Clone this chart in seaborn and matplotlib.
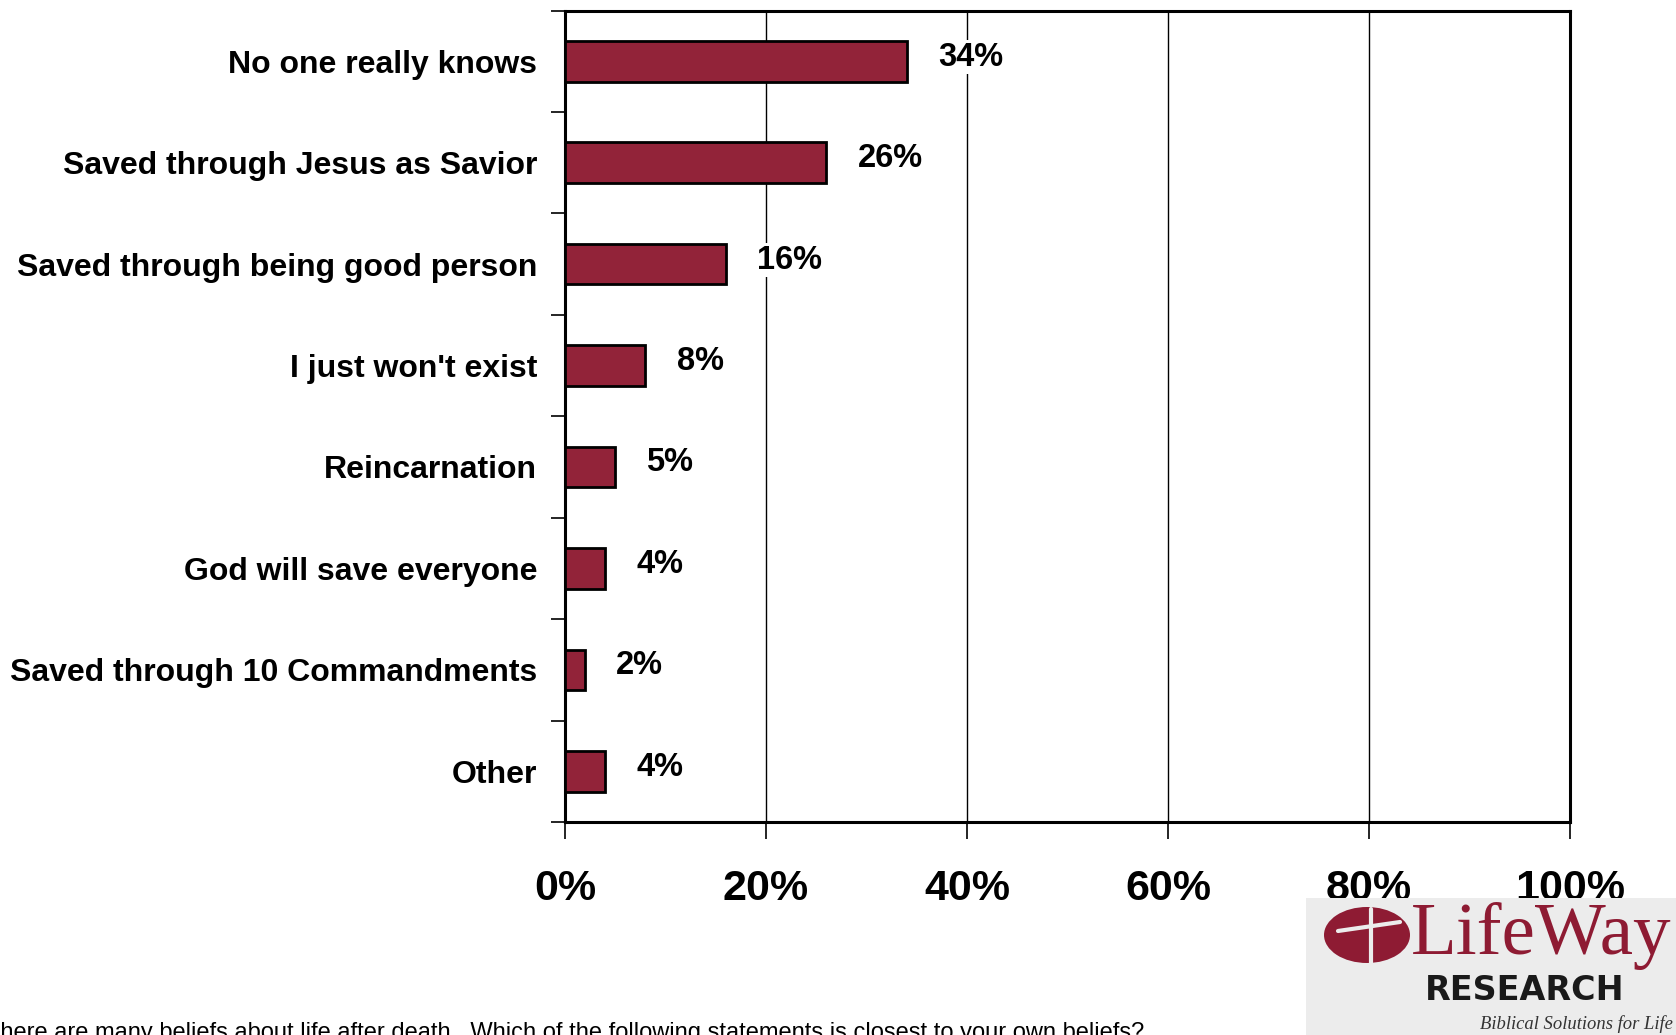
import matplotlib
matplotlib.use('Agg')
import matplotlib.pyplot as plt
from matplotlib.patches import Ellipse, Rectangle
import seaborn as sns
import pandas as pd

# dados do grafico
categorias = ['No one really knows', 'Saved through Jesus as Savior',
              'Saved through being good person', "I just won't exist",
              'Reincarnation', 'God will save everyone',
              'Saved through 10 Commandments', 'Other']
valores = [34, 26, 16, 8, 5, 4, 2, 4]
ticks_x = [0, 20, 40, 60, 80, 100]
pergunta = ('There are many beliefs about life after death.  Which of the following '
            'statements is closest to your own beliefs?')

df = pd.DataFrame({'categoria': categorias, 'valor': valores})

sns.set_style('white')
plt.rcParams['font.family'] = ['Liberation Sans', 'DejaVu Sans']
plt.rcParams['text.color'] = 'black'
plt.rcParams['xtick.color'] = 'black'
plt.rcParams['ytick.color'] = 'black'
plt.rcParams['axes.labelcolor'] = 'black'

cor = '#922339'

fig = plt.figure(figsize=(16.76, 10.35), dpi=100)
ax = fig.add_axes([565 / 1676, 1 - 822 / 1035, 1005 / 1676, 811.5 / 1035])

sns.barplot(data=df, x='valor', y='categoria', orient='h', color=cor,
            edgecolor='black', linewidth=2, width=0.4, saturation=1, ax=ax, zorder=3)

ax.set_xlim(0, 100)
ax.set_ylim(7.5, -0.5)
ax.set_xticks(ticks_x)
ax.set_xticklabels([f'{t}%' for t in ticks_x], fontsize=31, fontweight='bold')
ax.set_yticks(range(len(categorias)))
ax.set_yticklabels(categorias, fontsize=23, fontweight='bold')
ax.set_yticks([i - 0.5 for i in range(len(categorias) + 1)], minor=True)
ax.tick_params(axis='y', which='major', length=0, pad=20)
ax.tick_params(axis='y', which='minor', length=10, width=1.2, color='black', left=True)
ax.tick_params(axis='x', which='major', length=12, width=1.2, color='black', pad=22, bottom=True)
ax.set_xlabel('')
ax.set_ylabel('')

# grade vertical
ax.grid(False)
for t in ticks_x[1:-1]:
    ax.axvline(t, color='black', linewidth=1, zorder=1)
for s in ax.spines.values():
    s.set_visible(True)
    s.set_color('black')
    s.set_linewidth(2.2)

# rotulos das barras
for i, v in enumerate(valores):
    ax.text(v + 3.1, i - 0.04, f'{v}%', fontsize=23.5, fontweight='bold', va='center', ha='left',
            bbox=dict(facecolor='white', edgecolor='none', pad=1), zorder=4)

# pergunta no rodape (cortada na borda como no original)
fig.text(-14 / 1676, 1 - 1033 / 1035, pergunta, fontsize=17, va='center', ha='left')

# logo LifeWay (aproximado)
lax = fig.add_axes([1306 / 1676, 0, 370 / 1676, 137 / 1035])
lax.set_xlim(1306, 1676)
lax.set_ylim(1035, 898)
lax.axis('off')
lax.add_patch(Rectangle((1306, 898), 370, 137, facecolor='#ececec', edgecolor='none'))
lax.add_patch(Ellipse((1367, 935), 86, 56, facecolor='#8e1b33', edgecolor='none'))
lax.plot([1371, 1371], [909, 963], color='#ececec', linewidth=3)
lax.plot([1338, 1400], [931, 922], color='#ececec', linewidth=3)
lax.text(1411, 936, 'LifeWay', fontsize=54, family='Liberation Serif', color='#8e1b33',
         va='center', ha='left')
lax.text(1525, 990, 'RESEARCH', fontsize=24, fontweight='bold', family='DejaVu Sans',
         color='#1a1a1a', va='center', ha='center')
lax.text(1576, 1024, 'Biblical Solutions for Life', fontsize=13.4, family='Liberation Serif',
         style='italic', color='#333333', va='center', ha='center')

fig.savefig('out.png', dpi=100)
